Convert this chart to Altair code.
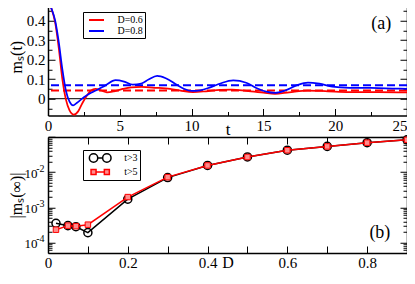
import altair as alt
import pandas as pd

FONT = "Liberation Serif"
W = 359            # plot width (both panels)
HA = 117.75        # height of panel (a)
GAPB = 139.25      # top of panel (b) inside the common view
HT = 255.25        # total view height (bottom of panel b)
HB = HT - GAPB

# ---------------- panel (a): m_s(t) ----------------
curve_names = ["D=0.6", "D=0.8"]
curve_colors = ["#ff0000", "#0000ff"]
t_d06 = [0, 0.25, 0.5, 0.75, 1.0, 1.25, 1.5, 1.8, 2.1, 2.4, 2.7, 3.0, 3.3, 3.7, 4.1, 4.6,
         5.2, 5.8, 6.5, 7.5, 8.5, 9.3, 10.1, 11.0, 12.0, 12.8, 13.8, 15.0, 15.8, 16.8,
         18.1, 19.5, 21.0, 23.0, 25.0]
m_d06 = [0.5, 0.46, 0.39, 0.26, 0.10, -0.005, -0.06, -0.082, -0.065, -0.022, 0.015, 0.042,
         0.05, 0.042, 0.033, 0.038, 0.05, 0.058, 0.06, 0.056, 0.05, 0.04, 0.034, 0.038,
         0.045, 0.046, 0.04, 0.031, 0.025, 0.033, 0.042, 0.038, 0.034, 0.034, 0.032]
t_d08 = [0, 0.25, 0.5, 0.75, 1.0, 1.25, 1.5, 1.75, 2.0, 2.5, 3.0, 3.5, 4.0, 4.7, 5.3, 5.9,
         6.5, 7.0, 7.6, 8.2, 9.0, 9.5, 10.0, 10.6, 11.3, 12.0, 12.9, 13.8, 14.5, 15.2,
         15.8, 16.5, 17.3, 18.1, 18.9, 19.8, 21.0, 22.5, 24.0, 25.0]
m_d08 = [0.5, 0.46, 0.40, 0.29, 0.15, 0.04, -0.015, -0.034, -0.022, 0.007, 0.03, 0.048,
         0.068, 0.095, 0.088, 0.072, 0.078, 0.098, 0.117, 0.105, 0.07, 0.05, 0.04, 0.043,
         0.058, 0.078, 0.094, 0.082, 0.055, 0.036, 0.03, 0.042, 0.068, 0.083, 0.077,
         0.062, 0.056, 0.055, 0.052, 0.05]
m_inf = [0.042, 0.069]          # dashed long-time values for D=0.6 and D=0.8

t_major = [0, 5, 10, 15, 20, 25]
t_minor = [2.5, 7.5, 12.5, 17.5, 22.5]
ma_labels = [0, 0.1, 0.2, 0.3, 0.4]
ma_major = [0, 0.1, 0.2, 0.3, 0.4, 0.5]
ma_minor = [-0.05, 0.05, 0.15, 0.25, 0.35, 0.45]
label_a = ["(a)"]
label_a_t = [23.2]
label_a_m = [0.383]

# ---------------- panel (b): |m_s(inf)| vs D ----------------
series_names = ["t>3", "t>5"]
D_vals = [0.02, 0.05, 0.07, 0.1, 0.2, 0.3, 0.4, 0.5, 0.6, 0.7, 0.8, 0.9]
m_t3 = [3.5e-4, 3.0e-4, 2.8e-4, 1.9e-4, 1.7e-3, 7.0e-3, 1.55e-2, 2.7e-2, 4.2e-2, 5.4e-2, 6.9e-2, 8.3e-2]
m_t5 = [2.3e-4, 3.0e-4, 2.9e-4, 3.2e-4, 1.95e-3, 7.2e-3, 1.55e-2, 2.7e-2, 4.2e-2, 5.4e-2, 6.9e-2, 8.3e-2]

D_labels = [0, 0.2, 0.4, 0.6, 0.8]
D_minor = [0.1, 0.3, 0.5, 0.7, 0.9]
mb_labels = [1e-4, 1e-3, 1e-2]
mb_major = [1e-4, 1e-3, 1e-2, 1e-1]
mb_minor = [6e-5, 7e-5, 8e-5, 9e-5] + [k * 1e-4 for k in range(2, 10)] + \
           [k * 1e-3 for k in range(2, 10)] + [k * 1e-2 for k in range(2, 10)]
label_b = ["(b)"]
label_b_D = [0.832]
label_b_m = [1.8e-4]

# ---------------- frames ----------------
lines_a = pd.DataFrame({
    "t": t_d06 + t_d08,
    "m": m_d06 + m_d08,
    "curve": [curve_names[0]] * len(t_d06) + [curve_names[1]] * len(t_d08),
})
zero_df = pd.DataFrame({"y": [0.0]})
inf_red = pd.DataFrame({"y": [m_inf[0]]})
inf_blue = pd.DataFrame({"y": [m_inf[1]]})
txt_a = pd.DataFrame({"t": label_a_t, "m": label_a_m, "s": label_a})

df_t3 = pd.DataFrame({"D": D_vals, "m": m_t3, "series": series_names[0]})
df_t5 = pd.DataFrame({"D": D_vals, "m": m_t5, "series": series_names[1]})
df_b = pd.concat([df_t3, df_t5], ignore_index=True)
txt_b = pd.DataFrame({"D": label_b_D, "m": label_b_m, "s": label_b})

xs_a = alt.Scale(domain=[0, 25], nice=False, zero=False)
ys_a = alt.Scale(domain=[-0.0862, 0.5177], range=[HA, 0], nice=False, zero=False)
xs_b = alt.Scale(domain=[0, 0.9], nice=False, zero=False)
ys_b = alt.Scale(type="log", domain=[5e-5, 0.1], range=[HT, GAPB], nice=False)


def tick_axis(orient, values, size, offset, domain=False):
    kw = dict(domain=True, domainColor="black", domainWidth=1.5) if domain else dict(domain=False)
    return alt.Axis(orient=orient, values=values, tickSize=size, offset=offset,
                    labels=False, grid=False, ticks=True, minExtent=0,
                    tickColor="black", tickWidth=1, title=None, **kw)


def label_axis(orient, values, title, lpad, tpad, tsize, offset=0, lsize=15, **kw):
    return alt.Axis(orient=orient, values=values, title=title, ticks=False, tickSize=0,
                    domain=True, domainColor="black", domainWidth=1.5, offset=offset,
                    grid=False, labelPadding=lpad, titlePadding=tpad, minExtent=0,
                    labelFont=FONT, labelFontSize=lsize, titleFont=FONT, titleFontSize=tsize,
                    titleFontWeight="normal", labelFlush=False, labelOverlap=False,
                    labelColor="black", titleColor="black", **kw)


def dummy(df, xf, yf, xs, ys, xaxis, yaxis):
    return alt.Chart(df).mark_point(opacity=0).encode(
        x=alt.X(xf, scale=xs, axis=xaxis), y=alt.Y(yf, scale=ys, axis=yaxis))


# ---------------- panel (a) layers ----------------
ax_a_x = label_axis("bottom", t_major, "t", 3, -12, 17, offset=-(HT - HA), format="~g",
                    labelAlign={"condition": {"test": "datum.value >= 25", "value": "right"},
                                "value": "center"})
ax_a_y = label_axis("left", ma_labels, "mₛ(t)", 3, 2, 16, format="~g")

a_zero = alt.Chart(zero_df).mark_rule(color="black", strokeWidth=1).encode(
    y=alt.Y("y:Q", scale=ys_a, axis=ax_a_y))
a_inf_r = alt.Chart(inf_red).mark_rule(color=curve_colors[0], strokeWidth=2, strokeDash=[8, 4]).encode(
    y=alt.Y("y:Q", scale=ys_a, axis=tick_axis("right", ma_major, 7, -W)))
a_inf_b = alt.Chart(inf_blue).mark_rule(color=curve_colors[1], strokeWidth=2, strokeDash=[8, 4]).encode(
    y=alt.Y("y:Q", scale=ys_a, axis=tick_axis("right", ma_minor, 4, -W)))

leg_a = alt.Legend(orient="none", legendX=35, legendY=14.25, title=None,
                   symbolType="M-1.5,0L1.5,0", symbolSize=100, symbolStrokeWidth=2,
                   symbolOffset=5.5, labelOffset=15, labelFont=FONT, labelFontSize=10,
                   labelColor="black", strokeColor="black", fillColor="white",
                   padding=2, rowPadding=0)
a_lines = alt.Chart(lines_a).mark_line(strokeWidth=1.75, interpolate="monotone").encode(
    x=alt.X("t:Q", scale=xs_a, axis=ax_a_x),
    y=alt.Y("m:Q", scale=ys_a, axis=tick_axis("left", ma_major, 7, -W, domain=True)),
    color=alt.Color("curve:N", scale=alt.Scale(domain=curve_names, range=curve_colors), legend=leg_a),
)
a_d1 = dummy(lines_a, "t:Q", "m:Q", xs_a, ys_a, tick_axis("top", t_major, 7, -HA),
             tick_axis("left", ma_minor, 4, -W))
a_d2 = dummy(lines_a, "t:Q", "m:Q", xs_a, ys_a, tick_axis("top", t_minor, 4, -HA), None)
a_d3 = dummy(lines_a, "t:Q", "m:Q", xs_a, ys_a, tick_axis("bottom", t_major, 7, -HT, domain=True), None)
a_d4 = dummy(lines_a, "t:Q", "m:Q", xs_a, ys_a, tick_axis("bottom", t_minor, 4, -HT), None)
a_txt = alt.Chart(txt_a).mark_text(font=FONT, fontSize=18, color="black").encode(
    x=alt.X("t:Q", scale=xs_a, axis=None), y=alt.Y("m:Q", scale=ys_a, axis=None), text="s:N")

panel_a = alt.layer(a_zero, a_inf_r, a_inf_b, a_lines, a_d1, a_d2, a_d3, a_d4, a_txt).resolve_axis(
    x="independent", y="independent")

# ---------------- panel (b) layers ----------------
ax_b_x = label_axis("bottom", D_labels, "D", 2, -16, 16, format="~g")
ax_b_y = label_axis("left", mb_labels, "|mₛ(∞)|", 11, 0, 16, lsize=13, labelExpr="'10'",
                    labelOffset=1)
ax_b_sup = alt.Axis(orient="left", values=mb_labels, ticks=False, tickSize=0, domain=False,
                    grid=False, title=None, labelPadding=4, labelOffset=-4, labelFont=FONT,
                    labelFontSize=10, labelColor="black", labelFlush=False, labelOverlap=False,
                    minExtent=0,
                    labelExpr="datum.value < 0.0005 ? '-4' : datum.value < 0.005 ? '-3' : '-2'")

b_line3 = alt.Chart(df_t3).mark_line(color="black", strokeWidth=1.5).encode(
    x=alt.X("D:Q", scale=xs_b, axis=ax_b_x), y=alt.Y("m:Q", scale=ys_b, axis=ax_b_y))
b_pt3 = alt.Chart(df_t3).mark_point(shape="circle", filled=False, color="black", strokeWidth=1.5,
                                    size=65, opacity=1).encode(
    x=alt.X("D:Q", scale=xs_b, axis=tick_axis("top", D_labels, 7, -HT)),
    y=alt.Y("m:Q", scale=ys_b, axis=tick_axis("right", mb_major, 7, -W)))
b_line5 = alt.Chart(df_t5).mark_line(color="#ff0000", strokeWidth=1.5).encode(
    x=alt.X("D:Q", scale=xs_b, axis=tick_axis("top", D_minor, 7, -HT)),
    y=alt.Y("m:Q", scale=ys_b, axis=tick_axis("right", mb_minor, 4, -W)))
b_pt5 = alt.Chart(df_t5).mark_square(size=30, fill="#ff8c8c", stroke="#ff0000", strokeWidth=1,
                                     opacity=1).encode(
    x=alt.X("D:Q", scale=xs_b, axis=tick_axis("bottom", D_labels, 7, -HB, domain=True)),
    y=alt.Y("m:Q", scale=ys_b, axis=tick_axis("left", mb_major, 7, -W, domain=True)))

circ_path = ("M-0.49,0L0.49,0M-0.49,0A0.84,0.84 0 1 0 -2.17,0A0.84,0.84 0 1 0 -0.49,0"
             "M2.17,0A0.84,0.84 0 1 0 0.49,0A0.84,0.84 0 1 0 2.17,0")
sq_path = ("M-1.83,-0.5L-0.83,-0.5L-0.83,0.5L-1.83,0.5Z"
           "M0.83,-0.5L1.83,-0.5L1.83,0.5L0.83,0.5Z M-0.83,0L0.83,0")


def leg_b():
    return alt.Legend(orient="none", legendX=35, legendY=152.25, title=None, symbolSize=100,
                      symbolStrokeWidth=1.5, symbolOpacity=1, symbolOffset=9.2, labelOffset=18,
                      labelFont=FONT, labelFontSize=10, labelColor="black", strokeColor="black",
                      fillColor="white", padding=2, rowPadding=0)


b_leg = alt.Chart(df_b).mark_point(opacity=0, size=100, filled=False).encode(
    x=alt.X("D:Q", scale=xs_b, axis=tick_axis("bottom", D_minor, 7, -HB)),
    y=alt.Y("m:Q", scale=ys_b, axis=tick_axis("left", mb_minor, 4, -W)),
    shape=alt.Shape("series:N", scale=alt.Scale(domain=series_names, range=[circ_path, sq_path]), legend=leg_b()),
    stroke=alt.Stroke("series:N", scale=alt.Scale(domain=series_names, range=["black", "#ff0000"]), legend=leg_b()),
    fill=alt.Fill("series:N", scale=alt.Scale(domain=series_names, range=["transparent", "#ff8c8c"]), legend=leg_b()),
)
b_txt = alt.Chart(txt_b).mark_text(font=FONT, fontSize=18, color="black").encode(
    x=alt.X("D:Q", scale=xs_b, axis=None), y=alt.Y("m:Q", scale=ys_b, axis=ax_b_sup), text="s:N")

panel_b = alt.layer(b_line3, b_pt3, b_line5, b_pt5, b_leg, b_txt).resolve_axis(
    x="independent", y="independent")

chart = alt.layer(panel_a, panel_b).resolve_scale(
    x="independent", y="independent"
).resolve_axis(
    x="independent", y="independent"
).properties(
    width=W, height=HT,
    autosize=alt.AutoSizeParams(type="none"),
    padding={"left": 40, "top": -10.25, "right": 0, "bottom": 17},
    background="white",
).configure_view(stroke="transparent").configure_axis(
    labelFont=FONT, titleFont=FONT).configure_legend(labelFont=FONT).configure_text(font=FONT)

chart.save("out.html", embed_options={"renderer": "svg", "actions": False})
